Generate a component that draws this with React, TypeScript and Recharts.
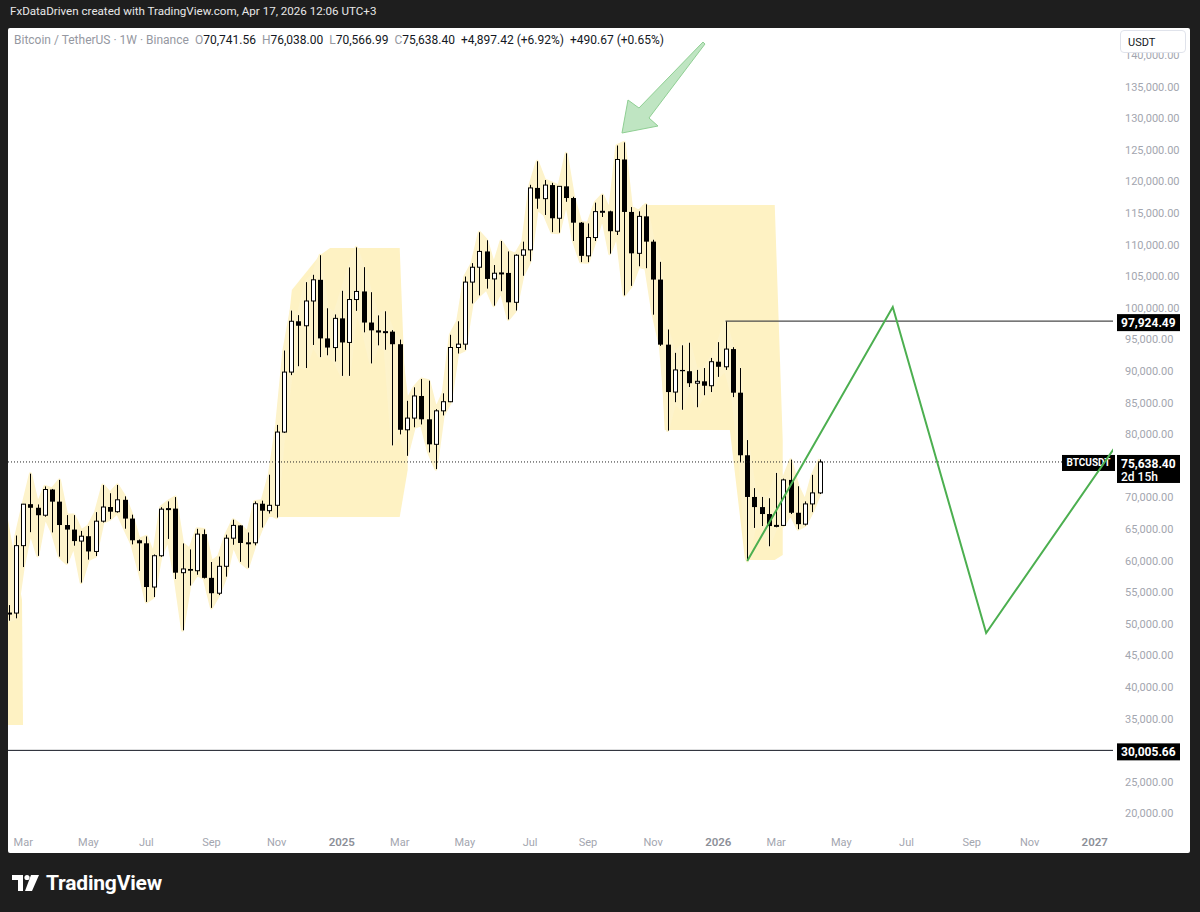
import React from 'react';
import { ComposedChart, Bar, Area, Line, Scatter, XAxis, YAxis, ReferenceLine } from 'recharts';

// ---- weekly candles (BTC/USDT, 1W), first candle = week index -1 ----
const firstWeekIndex = -1;
const opens = [51580, 51730, 62400, 68960, 68390, 67210, 71280, 69360, 65660, 64940, 63120, 63890, 61480, 66270, 68510, 67770, 69650, 66680, 63250, 62770, 55850, 60800, 68170, 68260, 58120, 58710, 58430, 64220, 57300, 54870, 59130, 63580, 65600, 62820, 62850, 69030, 67930, 68780, 80370, 89860, 97900, 97190, 101110, 104460, 95190, 93740, 98360, 94550, 101340, 102620, 97700, 96460, 96120, 96260, 94270, 80730, 82580, 86080, 82390, 78430, 83730, 85170, 93750, 94280, 104100, 106450, 108950, 104600, 105500, 105550, 100900, 108350, 109200, 119000, 117300, 119450, 114200, 119250, 117400, 113500, 108250, 111150, 115250, 115300, 112150, 123500, 115200, 108650, 114500, 110500, 104500, 94200, 86700, 90200, 90000, 88100, 88400, 87700, 91500, 90700, 93500, 86600, 76700, 70100, 68500, 67400, 65500, 65600, 72800, 67600, 65800, 69000, 70741.56];
const highs = [52990, 64000, 69000, 73780, 68920, 71770, 71370, 72800, 67230, 67230, 64730, 65500, 67700, 71980, 70690, 72000, 70200, 67300, 63370, 63860, 61000, 68480, 69400, 70080, 62750, 61800, 65060, 64960, 59810, 60670, 64130, 66500, 65620, 64480, 69400, 69520, 73620, 81500, 93270, 99590, 98870, 104090, 105250, 108350, 99960, 98980, 102720, 106420, 109590, 106460, 102500, 98830, 99480, 96500, 95000, 85310, 87450, 88770, 88500, 84000, 86500, 95760, 97900, 104980, 107100, 111980, 110720, 106800, 110600, 108950, 108500, 110500, 119490, 123220, 120250, 119800, 119300, 124470, 117600, 113600, 113380, 116670, 117900, 115400, 125710, 126200, 115970, 115300, 116400, 110800, 107300, 96600, 92900, 94100, 94500, 90200, 90500, 92100, 94600, 97924.49, 93800, 90500, 79100, 71500, 70100, 69900, 73900, 73000, 76000, 71800, 69400, 73600, 76038];
const lows = [50520, 50900, 59010, 64530, 60780, 66980, 64490, 60660, 59600, 62390, 56550, 60190, 60750, 66060, 66600, 67610, 65080, 62600, 58400, 53490, 54260, 60630, 63460, 57120, 49000, 56080, 57790, 57200, 52550, 54580, 57490, 62540, 59830, 58900, 62450, 65260, 67480, 66840, 80220, 89380, 90790, 90500, 94150, 92230, 92520, 91530, 89260, 89260, 99550, 96150, 91230, 94090, 93390, 78260, 80000, 76610, 81130, 81570, 77150, 74510, 83000, 85100, 92800, 93380, 100720, 102000, 103070, 100370, 102660, 98200, 99600, 105100, 107400, 115700, 114720, 112000, 111920, 116800, 110600, 107260, 107250, 110600, 114400, 108600, 111550, 102000, 103500, 106600, 106300, 98940, 94000, 80600, 85100, 83900, 87500, 84300, 86200, 86700, 89100, 90200, 85900, 75600, 59970, 65200, 65500, 62300, 65300, 65500, 67400, 65000, 65600, 67700, 70566.99];
const closes = [51730, 62400, 68960, 68390, 67210, 71280, 69360, 65660, 64940, 63120, 63890, 61480, 66270, 68510, 67770, 69650, 66680, 63250, 62770, 55850, 60800, 68170, 68260, 58120, 58710, 58430, 64220, 57300, 54870, 59130, 63580, 65600, 62820, 62850, 69030, 67930, 68780, 80370, 89860, 97900, 97190, 101110, 104460, 95190, 93740, 98360, 94550, 101340, 102620, 97700, 96460, 96120, 96260, 94270, 80730, 82580, 86080, 82390, 78430, 83730, 85170, 93750, 94280, 104100, 106450, 108950, 104600, 105500, 105550, 100900, 108350, 109200, 119000, 117300, 119450, 114200, 119250, 117400, 113500, 108250, 111150, 115250, 115300, 112150, 123500, 115200, 108650, 114500, 110500, 104500, 94200, 86700, 90200, 90000, 88100, 88400, 87700, 91500, 90700, 93500, 86600, 76700, 70100, 68500, 67400, 65500, 65600, 72800, 67600, 65800, 69000, 70741.56, 75638.4];

// ---- axis ticks (30,000 and 75,000 are hidden behind the price tags) ----
const priceTicks = [20000, 25000, 35000, 40000, 45000, 50000, 55000, 60000, 65000, 70000, 80000, 85000, 90000, 95000, 100000, 105000, 110000, 115000, 120000, 125000, 130000, 135000, 140000];
const timeTickWeeks = [1, 10, 18, 27, 36, 45, 53, 62, 71, 79, 88, 97, 105, 114, 123, 132, 140, 149];
const timeTickLabels = ['Mar', 'May', 'Jul', 'Sep', 'Nov', '2025', 'Mar', 'May', 'Jul', 'Sep', 'Nov', '2026', 'Mar', 'May', 'Jul', 'Sep', 'Nov', '2027'];

// ---- visible window ----
const weekMin = -1.105;
const weekMax = 151.52;
const priceMin = 17405;
const priceMax = 144304;

// ---- drawings ----
const zoneAWeeks = [34.8, 38.1, 42.0, 43.4, 53.0, 54.1];
const zoneATop = [66930, 102850, 108390, 109490, 109490, 76740];
const zoneABottom = [66930, 66930, 66930, 66930, 66930, 74370];

const zoneBWeeks = [86.5, 88.9, 89.6, 98.6, 100.7, 104.8, 105.9];
const zoneBTop = [116300, 116300, 116300, 116300, 116300, 116300, 79110];
const zoneBBottom = [116300, 96040, 80700, 80700, 60130, 60130, 60920];

const zoneCWeeks = [-1.105, 0.83, 0.97];
const zoneCTop = [66500, 53800, 34020];
const zoneCBottom = [34020, 34020, 34020];

const pathWeeks = [101, 121.1, 134, 152.2];
const pathPrices = [59970, 100160, 48580, 78640];

const arrowWeeks = [83.7];
const arrowPrices = [127690];

const currentPrice = 75638.4;
const resistancePrice = 97924.49;
const resistanceStartWeek = 98;
const supportPrice = 30005.66;

const ZONE = '#fef2c3';
const GLOW = '#fdf3cb';

const candles = opens.map((o, i) => ({
  k: i + firstWeekIndex,
  open: o,
  high: highs[i],
  low: lows[i],
  close: closes[i],
  range: [lows[i], highs[i]],
}));

const zoneData = (ws: number[], top: number[], bot: number[]) =>
  ws.map((k, i) => ({ k, r: [bot[i], top[i]] }));
const zoneA = zoneData(zoneAWeeks, zoneATop, zoneABottom);
const zoneB = zoneData(zoneBWeeks, zoneBTop, zoneBBottom);
const zoneC = zoneData(zoneCWeeks, zoneCTop, zoneCBottom);
const pathData = pathWeeks.map((k, i) => ({ k, v: pathPrices[i] }));
const arrowData = arrowWeeks.map((k, i) => ({ k, v: arrowPrices[i] }));

const fmt = (v: number) =>
  v.toLocaleString('en-US', { minimumFractionDigits: 2, maximumFractionDigits: 2 });

const FONT = 'Roboto, "Liberation Sans", sans-serif';

const CandleShape = (props: any) => {
  const { x, y, width, height, payload } = props;
  if (!payload || !isFinite(x) || !isFinite(y)) return null;
  const top = Math.min(y, y + height);
  const h = Math.abs(height);
  const span = payload.high - payload.low || 1;
  const py = (v: number) => top + ((payload.high - v) / span) * h;
  const cx = Math.round(x + width / 2) + 0.5;
  const up = payload.close >= payload.open;
  const bTop = py(Math.max(payload.open, payload.close));
  const bBot = py(Math.min(payload.open, payload.close));
  const bh = Math.max(1, bBot - bTop);
  return (
    <g>
      <line x1={cx} x2={cx} y1={top} y2={top + h} stroke="#000" strokeWidth={1} />
      {up ? (
        <rect x={cx - 2} y={bTop} width={4} height={bh} fill="#fff" stroke="#000" strokeWidth={1} />
      ) : (
        <rect x={cx - 2.5} y={bTop} width={5} height={bh} fill="#000" />
      )}
    </g>
  );
};

const ArrowShape = (props: any) => {
  const { cx, cy } = props;
  if (!isFinite(cx) || !isFinite(cy)) return null;
  const pts = [
    [0, 0], [36, -7], [27, -15], [83, -89], [81, -91], [17, -25], [6, -33],
  ];
  return (
    <polygon
      points={pts.map(([dx, dy]) => `${cx + dx},${cy + dy}`).join(' ')}
      fill="#b4e0b7"
      fillOpacity={0.85}
      stroke="#8fcf93"
      strokeWidth={1}
      strokeLinejoin="round"
    />
  );
};

const PriceTick = (props: any) => {
  const { x, y, payload } = props;
  return (
    <text x={x + 12} y={y} dy="0.35em" fontSize={11} fill="#a3a6af" fontFamily={FONT}>
      {fmt(payload.value)}
    </text>
  );
};

const TimeTick = (props: any) => {
  const { x, y, payload } = props;
  const idx = timeTickWeeks.indexOf(payload.value);
  const label = idx >= 0 ? timeTickLabels[idx] : '';
  const isYear = /^\d{4}$/.test(label);
  return (
    <text
      x={x}
      y={y + 12}
      dy="0.35em"
      textAnchor="middle"
      fontSize={isYear ? 11.5 : 11}
      fontWeight={isYear ? 600 : 400}
      fill={isYear ? '#8c8f98' : '#a3a6af'}
      fontFamily={FONT}
    >
      {label}
    </text>
  );
};

const tagLabel = (text: string, sub?: string, sym?: string) => (p: any) => {
  const vb = p.viewBox || {};
  const right = (vb.x || 0) + (vb.width || 0);
  const y = vb.y || 0;
  const h = sub ? 28 : 17;
  return (
    <g>
      {sym && (
        <g>
          <rect x={right - 51} y={y - 7} width={53} height={16} fill="#000" />
          <text x={right - 24.5} y={y + 1} dy="0.35em" textAnchor="middle" fontSize={10} fontWeight={700} fill="#fff" fontFamily={FONT}>
            {sym}
          </text>
        </g>
      )}
      <rect x={right + 4} y={y - 7} width={63} height={h} fill="#000" />
      <text x={right + 8} y={y + 1.5} dy="0.35em" fontSize={12} fontWeight={700} fill="#fff" fontFamily={FONT}>
        {text}
      </text>
      {sub && (
        <text x={right + 8} y={y + 14.5} dy="0.35em" fontSize={12} fontWeight={500} fill="#fff" fontFamily={FONT}>
          {sub}
        </text>
      )}
    </g>
  );
};

const legendGray = '#9598a1';
const legendDark = '#131722';

export default function App() {
  return (
    <div style={{ position: 'fixed', left: 0, top: 0, width: 1200, height: 912, background: '#1e1e1e', fontFamily: FONT, overflow: 'hidden' }}>
      <div style={{ position: 'absolute', left: 10, top: 4, color: '#e8e8e8', fontSize: 11.6, whiteSpace: 'nowrap' }}>
        FxDataDriven created with TradingView.com, Apr 17, 2026 12:06 UTC+3
      </div>
      <div style={{ position: 'absolute', left: 8, top: 28, width: 1182, height: 825, background: '#fff', borderRadius: 2, overflow: 'hidden' }}>
        <ComposedChart width={1182} height={825} data={candles} margin={{ top: 0, right: 0, left: 0, bottom: 0 }}>
          <XAxis
            dataKey="k"
            type="number"
            domain={[weekMin, weekMax]}
            allowDataOverflow
            ticks={timeTickWeeks}
            interval={0}
            tick={<TimeTick />}
            axisLine={false}
            tickLine={false}
            tickSize={0}
            tickMargin={0}
            height={23}
          />
          <YAxis
            orientation="right"
            type="number"
            domain={[priceMin, priceMax]}
            allowDataOverflow
            ticks={priceTicks}
            interval={0}
            tick={<PriceTick />}
            axisLine={false}
            tickLine={false}
            tickSize={0}
            tickMargin={0}
            width={77}
          />
          <Area data={zoneC} dataKey="r" type="linear" fill={ZONE} fillOpacity={1} stroke="none" isAnimationActive={false} />
          <Area data={zoneA} dataKey="r" type="linear" fill={ZONE} fillOpacity={1} stroke="none" isAnimationActive={false} />
          <Area data={zoneB} dataKey="r" type="linear" fill={ZONE} fillOpacity={1} stroke="none" isAnimationActive={false} />
          <Area dataKey="range" type="linear" fill={GLOW} fillOpacity={1} stroke={GLOW} strokeWidth={3} strokeLinejoin="round" isAnimationActive={false} />
          <ReferenceLine y={supportPrice} stroke="#131722" strokeWidth={1} label={tagLabel(fmt(supportPrice))} />
          <ReferenceLine y={currentPrice} stroke="#222" strokeWidth={1} strokeDasharray="1 2" label={tagLabel(fmt(currentPrice), '2d 15h', 'BTCUSDT')} />
          <ReferenceLine
            segment={[{ x: resistanceStartWeek, y: resistancePrice }, { x: weekMax, y: resistancePrice }]}
            stroke="#4a4a4a"
            strokeWidth={1.2}
            label={tagLabel(fmt(resistancePrice))}
          />
          <Bar dataKey="range" barSize={5} shape={<CandleShape />} isAnimationActive={false} />
          <Line data={pathData} dataKey="v" type="linear" stroke="#4caf50" strokeWidth={2} dot={false} activeDot={false} isAnimationActive={false} />
          <Scatter data={arrowData} dataKey="v" shape={<ArrowShape />} isAnimationActive={false} />
        </ComposedChart>
        <div style={{ position: 'absolute', left: 6, top: 5, fontSize: 12, whiteSpace: 'nowrap', color: legendDark }}>
          <span style={{ color: legendGray }}>Bitcoin / TetherUS · 1W · Binance</span>
          <span style={{ color: legendGray, marginLeft: 6 }}>O</span>70,741.56
          <span style={{ color: legendGray, marginLeft: 6 }}>H</span>76,038.00
          <span style={{ color: legendGray, marginLeft: 6 }}>L</span>70,566.99
          <span style={{ color: legendGray, marginLeft: 6 }}>C</span>75,638.40
          <span style={{ marginLeft: 6 }}>+4,897.42 (+6.92%)</span>
          <span style={{ marginLeft: 6 }}>+490.67 (+0.65%)</span>
        </div>
        <div style={{ position: 'absolute', left: 1112, top: 2, width: 66, height: 23, border: '1px solid #e0e3eb', borderRadius: 4, background: '#fff', fontSize: 11, color: legendDark, lineHeight: '23px', paddingLeft: 7, boxSizing: 'border-box' }}>
          USDT
        </div>
      </div>
      <div style={{ position: 'absolute', left: 12, top: 870, height: 26, display: 'flex', alignItems: 'center' }}>
        <svg width={30} height={18} viewBox="0 0 30 18">
          <path d="M0 1 H11 V17 H6 V6 H0 Z" fill="#fff" />
          <circle cx={15} cy={3.5} r={2.6} fill="#fff" />
          <path d="M19 1 H27 L20 17 H13 Z" fill="#fff" />
        </svg>
        <span style={{ color: '#fff', fontSize: 21, fontWeight: 700, marginLeft: 4, letterSpacing: -0.2 }}>TradingView</span>
      </div>
    </div>
  );
}
